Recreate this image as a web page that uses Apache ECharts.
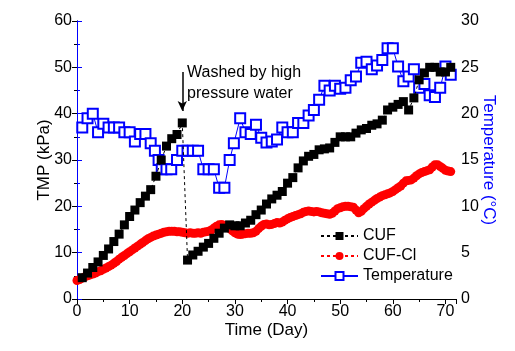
<!DOCTYPE html>
<html lang="en">
<head>
    <meta charset="UTF-8">
    <title>TMP and temperature</title>
    <style>
        html, body { margin: 0; padding: 0; background: #fff; }
    </style>
</head>
<body>

    <script src="https://cdn.jsdelivr.net/npm/echarts@6/dist/echarts.min.js"></script>

    <div id="main" style="width: 515px;height:351px;"></div>

    <script>
        // CUF (black squares), days and TMP in kPa
        var cufDays = [1, 2, 3, 4, 5, 6, 7, 8, 9, 10, 11, 12, 13, 14, 15, 16, 17, 18, 19, 20,
            21, 22, 23, 24, 25, 26, 27, 28, 29, 30, 31, 32, 33, 34, 35, 36, 37, 38, 39, 40,
            41, 42, 43, 44, 45, 46, 47, 48, 49, 50, 51, 52, 53, 54, 55, 56, 57, 58, 59, 60,
            61, 62, 63, 64, 65, 66, 67, 68, 69, 70, 71];
        var cufTmp = [4.6, 5.6, 6.8, 8.0, 9.4, 10.8, 12.4, 14.0, 16.0, 17.8, 19.2, 20.8, 22.2, 23.6, 26.5, 30.0, 33.0, 34.6, 35.5, 38.0,
            8.4, 9.5, 10.3, 11.2, 12.0, 13.1, 14.2, 15.3, 16.0, 15.8, 15.8, 16.4, 17.0, 18.2, 19.2, 20.5, 21.6, 22.4, 23.2, 25.0,
            26.2, 28.3, 29.8, 30.8, 31.2, 32.2, 32.4, 32.6, 33.8, 35.0, 35.0, 35.0, 35.8, 36.5, 36.8, 37.5, 37.8, 38.6, 40.8, 41.4,
            42.0, 42.6, 40.8, 43.4, 47.3, 48.8, 50.0, 50.0, 49.0, 49.0, 50.0];

        // CUF-Cl (red circles), sampled every half day
        var clDays = [0, 0.5, 1, 1.5, 2, 2.5, 3, 3.5, 4, 4.5, 5, 5.5, 6, 6.5, 7, 7.5, 8, 8.5, 9, 9.5,
            10, 10.5, 11, 11.5, 12, 12.5, 13, 13.5, 14, 14.5, 15, 15.5, 16, 16.5, 17, 17.5, 18, 18.5, 19, 19.5,
            20, 20.5, 21, 21.5, 22, 22.5, 23, 23.5, 24, 24.5, 25, 25.5, 26, 26.5, 27, 27.5, 28, 28.5, 29, 29.5,
            30, 30.5, 31, 31.5, 32, 32.5, 33, 33.5, 34, 34.5, 35, 35.5, 36, 36.5, 37, 37.5, 38, 38.5, 39, 39.5,
            40, 40.5, 41, 41.5, 42, 42.5, 43, 43.5, 44, 44.5, 45, 45.5, 46, 46.5, 47, 47.5, 48, 48.5, 49, 49.5,
            50, 50.5, 51, 51.5, 52, 52.5, 53, 53.5, 54, 54.5, 55, 55.5, 56, 56.5, 57, 57.5, 58, 58.5, 59, 59.5,
            60, 60.5, 61, 61.5, 62, 62.5, 63, 63.5, 64, 64.5, 65, 65.5, 66, 66.5, 67, 67.5, 68, 68.5, 69, 69.5,
            70, 70.5, 71];
        var clTmp = [4.0, 4.2, 4.5, 4.8, 5.0, 5.2, 5.4, 5.6, 5.9, 6.1, 6.4, 6.7, 7.0, 7.3, 7.7, 8.1, 8.6, 9.0, 9.4, 9.8,
            10.2, 10.6, 11.0, 11.4, 11.8, 12.2, 12.6, 13.0, 13.3, 13.6, 13.8, 14.0, 14.2, 14.4, 14.5, 14.6, 14.6, 14.6, 14.5, 14.5,
            14.4, 14.3, 14.2, 14.3, 14.2, 14.2, 14.3, 14.2, 14.4, 14.5, 14.6, 14.9, 15.3, 15.7, 16.0, 16.1, 15.9, 15.6, 15.2, 14.7,
            14.3, 14.0, 13.9, 14.0, 14.1, 14.2, 14.2, 14.3, 14.6, 15.2, 15.7, 16.1, 16.2, 16.0, 16.1, 16.3, 16.5, 16.4, 16.6, 17.0,
            17.3, 17.6, 17.8, 18.0, 18.2, 18.4, 18.7, 18.9, 19.0, 18.9, 18.8, 18.9, 18.8, 18.6, 18.5, 18.4, 18.3, 18.5, 19.0, 19.5,
            19.7, 19.9, 20.0, 20.0, 19.9, 19.8, 19.2, 18.6, 18.9, 19.5, 20.0, 20.5, 20.9, 21.3, 21.7, 22.0, 22.3, 22.5, 22.7, 22.9,
            23.2, 23.6, 24.0, 24.4, 25.0, 25.5, 25.6, 25.7, 26.1, 26.6, 27.0, 27.3, 27.5, 27.7, 27.9, 28.5, 29.0, 29.0, 28.6, 28.2,
            27.8, 27.6, 27.5];

        // Temperature (blue open squares, right axis, degC)
        var tempDays = [1, 2, 3, 4, 5, 6, 7, 8, 9, 10, 11, 12, 13, 14, 14.8, 15.5, 16.1, 17, 17.9, 19,
            20, 21, 22, 23, 24, 25, 26, 27, 28, 29, 29.8, 31, 32, 33, 34, 35, 36, 37, 38, 39,
            40, 41, 42, 43, 44, 45, 46, 47, 48, 49, 50, 51, 52, 53, 54, 55, 56, 57, 58, 59,
            60, 61, 62, 63, 64, 65, 66, 67, 68, 69, 70, 71];
        var tempValues = [18.5, 19.5, 20.0, 18.0, 18.9, 18.5, 18.5, 18.5, 18.0, 18.0, 17.0, 17.8, 17.8, 16.8, 16.0, 15.0, 14.0, 14.0, 14.0, 15.0,
            16.0, 16.0, 16.0, 16.0, 14.0, 14.0, 14.0, 12.0, 12.0, 15.0, 16.8, 19.5, 18.0, 17.8, 18.8, 17.4, 16.9, 17.0, 17.2, 18.5,
            18.0, 18.0, 19.0, 19.0, 19.8, 20.4, 21.5, 23.0, 22.5, 23.0, 22.7, 22.8, 23.6, 24.0, 25.5, 25.6, 24.8, 25.2, 25.8, 27.05,
            27.05, 25.1, 23.5, 24.0, 24.8, 22.8, 23.2, 22.0, 21.8, 22.8, 25.1, 24.2];

        var xTicks = [0, 10, 20, 30, 40, 50, 60, 70];

        function pairs(xs, ys) {
            var out = [];
            for (var i = 0; i < xs.length; i++) {
                out.push([xs[i], ys[i]]);
            }
            return out;
        }

        var myChart = echarts.init(document.getElementById('main'));
        var font = 'Liberation Sans, Arial, sans-serif';

        var option = {
            animation: false,
            textStyle: { fontFamily: font },
            grid: { left: 77, right: 59, top: 21, bottom: 52 },
            legend: {
                orient: 'vertical',
                left: 320,
                top: 228,
                padding: 0,
                itemWidth: 37,
                itemHeight: 10,
                itemGap: 4,
                textStyle: { fontFamily: font, fontSize: 16, color: '#000' },
                data: ['CUF', 'CUF-Cl', 'Temperature']
            },
            xAxis: [
                {
                    type: 'value',
                    min: 0,
                    max: 72,
                    interval: 10,
                    name: 'Time (Day)',
                    nameLocation: 'middle',
                    nameMoveOverlap: false,
                    nameGap: 23,
                    nameTextStyle: { fontFamily: font, fontSize: 17, color: '#000' },
                    axisLine: { show: true, lineStyle: { color: '#000', width: 1 } },
                    axisTick: { show: true, length: 5, lineStyle: { color: '#000' } },
                    minorTick: { show: true, splitNumber: 2, length: 3, lineStyle: { color: '#000' } },
                    axisLabel: {
                        fontFamily: font, fontSize: 16, color: '#000', margin: 5,
                        formatter: function (v) { return xTicks.indexOf(v) >= 0 ? String(v) : ''; }
                    },
                    splitLine: { show: false }
                },
                {
                    type: 'value',
                    position: 'top',
                    min: 0,
                    max: 72,
                    interval: 10,
                    axisLine: { show: true, lineStyle: { color: '#000', width: 1 } },
                    axisTick: { show: true, inside: true, length: 5, lineStyle: { color: '#000' } },
                    minorTick: { show: true, splitNumber: 2, length: 3, lineStyle: { color: '#000' } },
                    axisLabel: { show: false },
                    splitLine: { show: false }
                }
            ],
            yAxis: [
                {
                    type: 'value',
                    min: 0,
                    max: 60,
                    interval: 10,
                    name: 'TMP (kPa)',
                    nameLocation: 'middle',
                    nameMoveOverlap: false,
                    nameRotate: 90,
                    nameGap: 24,
                    nameTextStyle: { fontFamily: font, fontSize: 17, color: '#000' },
                    axisLine: { show: true, lineStyle: { color: '#000', width: 1 } },
                    axisTick: { show: true, length: 5, lineStyle: { color: '#000' } },
                    minorTick: { show: true, splitNumber: 2, length: 3, lineStyle: { color: '#000' } },
                    axisLabel: { fontFamily: font, fontSize: 16, color: '#000', margin: 5 },
                    splitLine: { show: false }
                },
                {
                    type: 'value',
                    min: 0,
                    max: 30,
                    interval: 5,
                    position: 'right',
                    name: 'Temperature (°C)',
                    nameLocation: 'middle',
                    nameMoveOverlap: false,
                    nameRotate: -90,
                    nameGap: 24,
                    nameTextStyle: { fontFamily: font, fontSize: 17, color: '#0000ff' },
                    axisLine: { show: true, lineStyle: { color: '#0000ff', width: 1 } },
                    axisTick: { show: true, length: 5, lineStyle: { color: '#0000ff' } },
                    minorTick: { show: true, splitNumber: 2, length: 3, lineStyle: { color: '#0000ff' } },
                    axisLabel: { fontFamily: font, fontSize: 16, color: '#000', margin: 5 },
                    splitLine: { show: false }
                }
            ],
            series: [
                {
                    name: 'Temperature',
                    type: 'line',
                    yAxisIndex: 1,
                    data: pairs(tempDays, tempValues),
                    symbol: 'emptyRect',
                    symbolSize: 10,
                    lineStyle: { color: '#0000ff', width: 1 },
                    itemStyle: { color: '#0000ff', borderWidth: 1.2 },
                    z: 2
                },
                {
                    name: 'CUF-Cl',
                    type: 'line',
                    data: pairs(clDays, clTmp),
                    symbol: 'circle',
                    symbolSize: 9,
                    lineStyle: { color: '#ff0000', width: 1, type: [3, 3] },
                    itemStyle: { color: '#ff0000' },
                    z: 3
                },
                {
                    name: 'CUF',
                    type: 'line',
                    data: pairs(cufDays, cufTmp),
                    symbol: 'rect',
                    symbolSize: 9,
                    lineStyle: { color: '#000', width: 1, type: [3, 3] },
                    itemStyle: { color: '#000' },
                    z: 4,
                    markLine: {
                        silent: true,
                        symbol: ['none', 'arrow'],
                        symbolSize: [7, 10],
                        label: { show: false },
                        lineStyle: { color: '#000', width: 1.5, type: 'solid' },
                        data: [[{ coord: [20, 49] }, { coord: [20, 40.6] }]]
                    }
                }
            ],
            graphic: [
                {
                    type: 'text',
                    left: 187,
                    top: 62,
                    style: {
                        text: 'Washed by high\npressure water',
                        fontFamily: font,
                        fontSize: 16,
                        lineHeight: 21,
                        fill: '#000'
                    }
                }
            ]
        };
        myChart.setOption(option);
    </script>

</body>
</html>
